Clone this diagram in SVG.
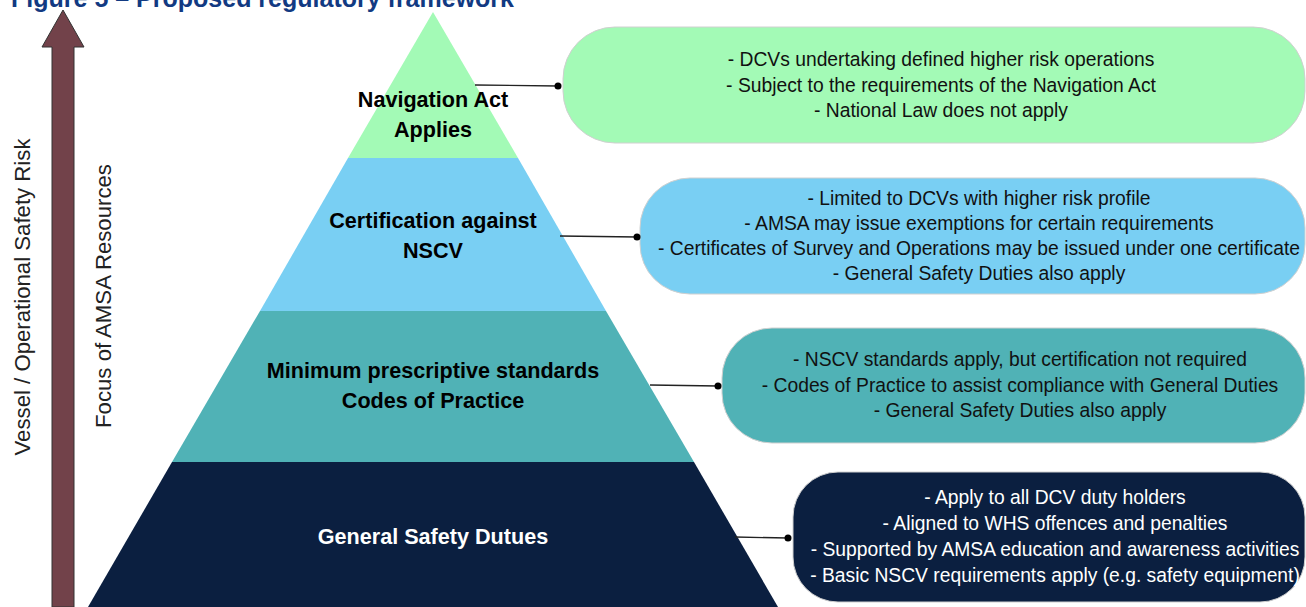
<svg xmlns="http://www.w3.org/2000/svg" width="1306" height="607" viewBox="0 0 1306 607">
<style>
  .lvl { font-family: "Liberation Sans", Arial, sans-serif; font-weight: bold; font-size: 21.6px; text-anchor: middle; }
  .note { font-family: "Liberation Sans", Arial, sans-serif; font-size: 19.3px; text-anchor: middle; fill: #111; }
  .note-w { fill: #fff; }
  .side { font-family: "Liberation Sans", Arial, sans-serif; font-size: 22.2px; text-anchor: middle; fill: #222; }
  .pill { stroke: #d0d0d0; stroke-width: 1; }
  .conn { stroke: #222; stroke-width: 1.3; fill: none; }
  .dot { fill: #000; }
</style>
<rect width="1306" height="607" fill="#ffffff"/>
<text x="514" y="7" text-anchor="end" font-family="Liberation Sans, Arial, sans-serif" font-weight="bold" font-size="25" fill="#123a82">Figure 5 – Proposed regulatory framework</text>

<g id="risk-arrow">
  <polygon points="63,10 84,47 74,47 74,607 52,607 52,47 42,47" fill="#72424a" stroke="#333" stroke-width="1"/>
  <text class="side" transform="translate(30,297) rotate(-90)">Vessel / Operational Safety Risk</text>
  <text class="side" transform="translate(111,296) rotate(-90)">Focus of AMSA Resources</text>
</g>

<g id="level-navigation-act">
  <polygon points="433,12 518,158 348,158" fill="#a3fab6"/>
  <text class="lvl" x="433" y="107" fill="#000">Navigation Act</text>
  <text class="lvl" x="433" y="137" fill="#000">Applies</text>
</g>
<g id="level-certification">
  <polygon points="348,158 518,158 606,311 260,311" fill="#79cff3"/>
  <text class="lvl" x="433" y="228" fill="#000">Certification against</text>
  <text class="lvl" x="433" y="258" fill="#000">NSCV</text>
</g>
<g id="level-minimum-standards">
  <polygon points="260,311 606,311 694,462 172,462" fill="#50b2b6"/>
  <text class="lvl" x="433" y="378" fill="#000">Minimum prescriptive standards</text>
  <text class="lvl" x="433" y="408" fill="#000">Codes of Practice</text>
</g>
<g id="level-general-duties">
  <polygon points="172,462 694,462 778,607 88,607" fill="#0b1f40"/>
  <text class="lvl" x="433" y="544" fill="#fff">General Safety Dutues</text>
</g>

<g id="note-navigation-act">
  <rect class="pill" x="563" y="27" width="742" height="116" rx="52" fill="#a3fab6"/>
  <text class="note" x="941" y="66">- DCVs undertaking defined higher risk operations</text>
  <text class="note" x="941" y="92">- Subject to the requirements of the Navigation Act</text>
  <text class="note" x="941" y="117">- National Law does not apply</text>
</g>
<g id="note-certification">
  <rect class="pill" x="640" y="178" width="665" height="116" rx="50" fill="#79cff3"/>
  <text class="note" x="979" y="205">- Limited to DCVs with higher risk profile</text>
  <text class="note" x="979" y="230">- AMSA may issue exemptions for certain requirements</text>
  <text class="note" x="979" y="255">- Certificates of Survey and Operations may be issued under one certificate</text>
  <text class="note" x="979" y="280">- General Safety Duties also apply</text>
</g>
<g id="note-minimum-standards">
  <rect class="pill" x="722" y="328" width="583" height="115" rx="50" fill="#50b2b6"/>
  <text class="note" x="1020" y="366">- NSCV standards apply, but certification not required</text>
  <text class="note" x="1020" y="392">- Codes of Practice to assist compliance with General Duties</text>
  <text class="note" x="1020" y="417">- General Safety Duties also apply</text>
</g>
<g id="note-general-duties">
  <rect class="pill" x="793" y="472" width="512" height="130" rx="45" fill="#0b1f40"/>
  <text class="note note-w" x="1055" y="504">- Apply to all DCV duty holders</text>
  <text class="note note-w" x="1055" y="530">- Aligned to WHS offences and penalties</text>
  <text class="note note-w" x="1055" y="556">- Supported by AMSA education and awareness activities</text>
  <text class="note note-w" x="1055" y="582">- Basic NSCV requirements apply (e.g. safety equipment)</text>
</g>

<g id="connectors">
  <line class="conn" x1="475" y1="85" x2="558" y2="86"/>
  <circle class="dot" cx="558" cy="86" r="3.5"/>
  <line class="conn" x1="560" y1="236" x2="637" y2="237"/>
  <circle class="dot" cx="637" cy="237" r="3.5"/>
  <line class="conn" x1="650" y1="385" x2="718" y2="386"/>
  <circle class="dot" cx="718" cy="386" r="3.5"/>
  <line class="conn" x1="735" y1="537" x2="788" y2="538"/>
  <circle class="dot" cx="788" cy="538" r="3.5"/>
</g>
</svg>
